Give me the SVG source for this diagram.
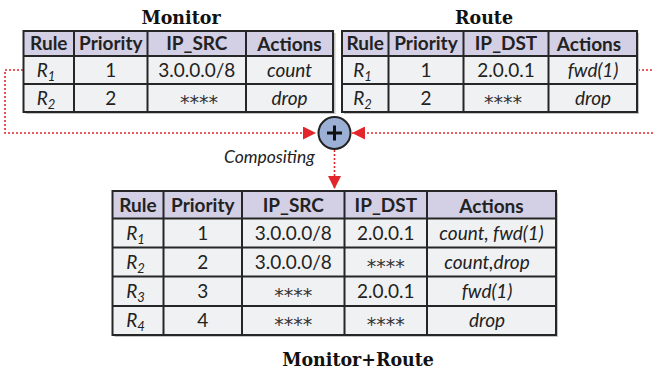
<svg xmlns="http://www.w3.org/2000/svg" width="653" height="372" viewBox="0 0 653 372">
<defs>
<style>
.hd{fill:#d3cfe4}
.bd{fill:#f0f1f3}
.sh{fill:#c4c4c4}
.grid{stroke:#262626;stroke-width:2;fill:none}
.t{font-family:Lato,"Noto Sans",sans-serif;font-size:19px;fill:#222;text-anchor:middle}
.st{font-family:"DejaVu Sans",sans-serif;font-size:19px;fill:#333;text-anchor:middle}
.b{font-weight:bold}
.i{font-style:italic}
.ttl{font-family:"DejaVu Serif Condensed","DejaVu Serif",serif;font-stretch:condensed;font-weight:bold;font-size:19.4px;fill:#111;text-anchor:middle}
.sub{font-size:13px}
.con{stroke:#e3262b;stroke-width:1.6;stroke-dasharray:2 2;fill:none}
.lbl{font-family:Lato,"Noto Sans",sans-serif;font-size:17.5px;font-style:italic;fill:#222}
</style>
<marker id="ah" viewBox="0 0 10 10" refX="10" refY="5" markerWidth="13" markerHeight="13" markerUnits="userSpaceOnUse" orient="auto">
<path d="M0,0 L10,5 L0,10 Z" fill="#e3262b"/>
</marker>
</defs>

<g id="connectors">
<path class="con" d="M23,70 H5 V133 H316" marker-end="url(#ah)"/>
<path class="con" d="M638,70 H660 V133 H352" marker-end="url(#ah)"/>
<path class="con" d="M334.5,150 V189" marker-end="url(#ah)"/>
<text class="lbl" x="224" y="163">Compositing</text>
</g>

<g id="compose">
<circle cx="334.5" cy="133" r="16" fill="#9cb0d6" stroke="#222" stroke-width="2"/>
<path d="M327,133 H342 M334.5,125.5 V140.5" stroke="#111" stroke-width="3"/>
</g>

<g id="monitor">
<text class="ttl" x="181" y="23.5">Monitor</text>
<rect class="sh" x="25.5" y="33" width="310" height="81"/>
<rect class="hd" x="23.5" y="31" width="309.5" height="25"/>
<rect class="bd" x="23.5" y="56" width="309.5" height="56"/>
<path class="grid" d="M23.5,31 H333 V112 H23.5 Z M23.5,56 H333 M23.5,84 H333 M74,31 V112 M147.5,31 V112 M246,31 V112"/>
<text class="t b" x="48.8" y="50">Rule</text>
<text class="t b" x="110.8" y="50">Priority</text>
<text class="t b" x="196.8" y="50">IP_SRC</text>
<text class="t b" x="289.5" y="51">Actions</text>
<text class="t i" x="46" y="77">R<tspan class="sub" dy="4">1</tspan></text>
<text class="t" x="110.8" y="77">1</text>
<text class="t" x="196.8" y="77">3.0.0.0/8</text>
<text class="t i" x="289.5" y="77">count</text>
<text class="t i" x="46" y="105">R<tspan class="sub" dy="4">2</tspan></text>
<text class="t" x="110.8" y="105">2</text>
<text class="st" x="199" y="109">****</text>
<text class="t i" x="289.5" y="105">drop</text>
</g>

<g id="route">
<text class="ttl" x="484" y="23.5">Route</text>
<rect class="sh" x="344" y="33" width="295" height="81"/>
<rect class="hd" x="342" y="31" width="295" height="25"/>
<rect class="bd" x="342" y="56" width="295" height="56"/>
<path class="grid" d="M342,31 H637 V112 H342 Z M342,56 H637 M342,84 H637 M388.5,31 V112 M463.5,31 V112 M548.5,31 V112"/>
<text class="t b" x="365.2" y="50">Rule</text>
<text class="t b" x="426" y="50">Priority</text>
<text class="t b" x="506" y="50">IP_DST</text>
<text class="t b" x="589" y="51">Actions</text>
<text class="t i" x="362.5" y="77">R<tspan class="sub" dy="4">1</tspan></text>
<text class="t" x="426" y="77">1</text>
<text class="t" x="506" y="77">2.0.0.1</text>
<text class="t i" x="593" y="77">fwd(1)</text>
<text class="t i" x="362.5" y="105">R<tspan class="sub" dy="4">2</tspan></text>
<text class="t" x="426" y="105">2</text>
<text class="st" x="503" y="109">****</text>
<text class="t i" x="593" y="105">drop</text>
</g>

<g id="composed">
<rect class="sh" x="114.5" y="193" width="443.5" height="144"/>
<rect class="hd" x="112.5" y="191" width="443.5" height="27.5"/>
<rect class="bd" x="112.5" y="218.5" width="443.5" height="116.5"/>
<path class="grid" d="M112.5,191 H556 V335 H112.5 Z M112.5,218.5 H556 M112.5,247.5 H556 M112.5,276.5 H556 M112.5,306 H556 M163.5,191 V335 M242,191 V335 M344.5,191 V335 M427,191 V335"/>
<text class="t b" x="138" y="211.5">Rule</text>
<text class="t b" x="202.8" y="211.5">Priority</text>
<text class="t b" x="293.3" y="211.5">IP_SRC</text>
<text class="t b" x="385.8" y="211.5">IP_DST</text>
<text class="t b" x="491.5" y="212.5">Actions</text>
<text class="t i" x="135.5" y="240">R<tspan class="sub" dy="4">1</tspan></text>
<text class="t" x="202.8" y="240">1</text>
<text class="t" x="293.3" y="240">3.0.0.0/8</text>
<text class="t" x="385.8" y="240">2.0.0.1</text>
<text class="t i" x="491.5" y="240">count, fwd(1)</text>
<text class="t i" x="135.5" y="269">R<tspan class="sub" dy="4">2</tspan></text>
<text class="t" x="202.8" y="269">2</text>
<text class="t" x="293.3" y="269">3.0.0.0/8</text>
<text class="st" x="385.8" y="273">****</text>
<text class="t i" x="487" y="269">count,drop</text>
<text class="t i" x="135.5" y="298">R<tspan class="sub" dy="4">3</tspan></text>
<text class="t" x="202.8" y="298">3</text>
<text class="st" x="293.3" y="302">****</text>
<text class="t" x="385.8" y="298">2.0.0.1</text>
<text class="t i" x="487" y="298">fwd(1)</text>
<text class="t i" x="135.5" y="327">R<tspan class="sub" dy="4">4</tspan></text>
<text class="t" x="202.8" y="327">4</text>
<text class="st" x="293.3" y="331">****</text>
<text class="st" x="385.8" y="331">****</text>
<text class="t i" x="487" y="327">drop</text>
<text class="ttl" x="358" y="366">Monitor+Route</text>
</g>
</svg>
